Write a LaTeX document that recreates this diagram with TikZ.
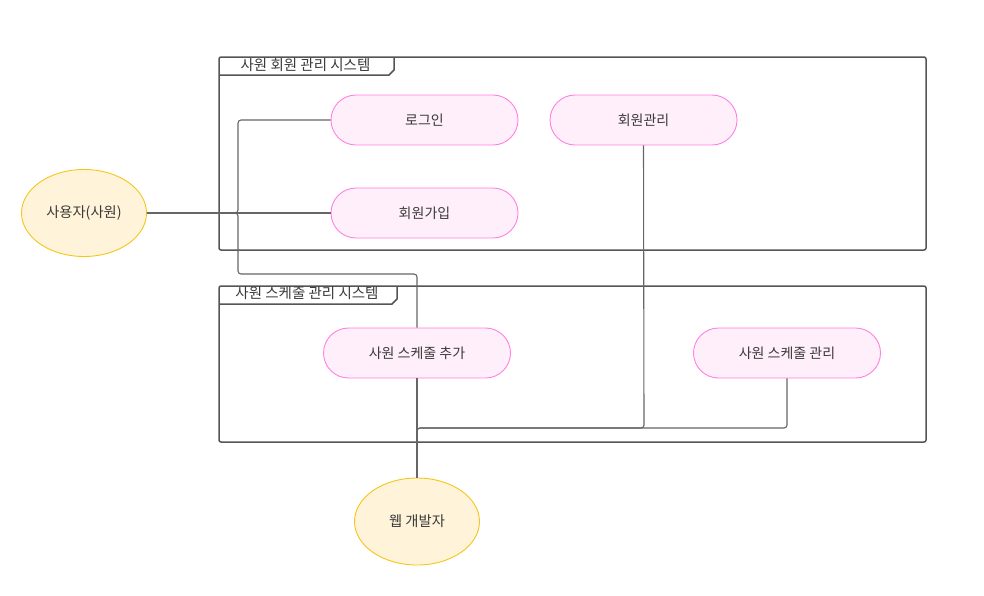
\documentclass[tikz,border=0pt]{standalone}
\usepackage{fontspec}
\setmainfont{Noto Sans CJK KR}
\usetikzlibrary{shapes.geometric,shapes.misc}
\definecolor{pillfill}{HTML}{FFEFFA}
\definecolor{pilldraw}{HTML}{FF80E0}
\definecolor{actfill}{HTML}{FFF4DA}
\definecolor{actdraw}{HTML}{F5C518}
\definecolor{txt}{HTML}{3A3A3A}
\definecolor{boxline}{HTML}{555555}
\definecolor{conn}{HTML}{666666}
\tikzset{
  pill/.style={rounded rectangle, draw=pilldraw, fill=pillfill, line width=0.9pt,
    minimum width=187pt, minimum height=50pt, inner sep=0pt, text=txt,
    font=\fontsize{14}{16}\selectfont},
  actor/.style={ellipse, draw=actdraw, fill=actfill, line width=0.9pt,
    minimum width=125pt, minimum height=87pt, inner sep=0pt, text=txt,
    font=\fontsize{14.3}{16}\selectfont},
  sysbox/.style={draw=boxline, line width=1.5pt, rounded corners=2pt},
  tablabel/.style={text=txt, font=\fontsize{14.5}{16}\selectfont, inner sep=0pt},
  connector/.style={draw=conn, line width=1.1pt, rounded corners=3pt},
}
\begin{document}
\begin{tikzpicture}[x=1pt,y=-1pt]
\useasboundingbox (0,0) rectangle (984,595);
% system boxes
\draw[sysbox] (219,57) rectangle (926,250);
\draw[boxline, line width=1.5pt] (219,75) -- (389,75) -- (394,70) -- (394,57);
\node[tablabel] (t1) at (305.5,65.5) {사원 회원 관리 시스템};
\draw[sysbox] (219,286) rectangle (926,442);
\draw[boxline, line width=1.5pt] (219,304) -- (392,304) -- (397,299) -- (397,286);
\node[tablabel] (t2) at (307,293.5) {사원 스케줄 관리 시스템};
% nodes
\node[pill] (login) at (424.5,120) {로그인};
\node[pill] (mgmt) at (643.5,120) {회원관리};
\node[pill] (join) at (424.5,213) {회원가입};
\node[pill] (add) at (417,353) {사원 스케줄 추가};
\node[pill] (smgmt) at (787,353) {사원 스케줄 관리};
\node[actor] (user) at (84,213) {사용자(사원)};
\node[actor] (dev) at (417,521.5) {웹 개발자};
% connector waypoints
\coordinate (ua) at (238,213);
\coordinate (ub) at (238,120);
\coordinate (uc) at (238,274);
\coordinate (ud) at (417,274);
\coordinate (da) at (417,428);
\coordinate (db) at (644,428);
\coordinate (dc) at (787,428);
% connectors
\draw[connector] (user.east) -- (join.west);
\draw[connector] (user.east) -- (ua) -- (ub) -- (login.west);
\draw[connector] (user.east) -- (ua) -- (uc) -- (ud) -- (add.north);
\draw[connector] (dev.north) -- (add.south);
\draw[connector] (dev.north) -- (da) -- (db) -- (mgmt.south);
\draw[connector] (dev.north) -- (da) -- (dc) -- (smgmt.south);
\end{tikzpicture}
\end{document}
